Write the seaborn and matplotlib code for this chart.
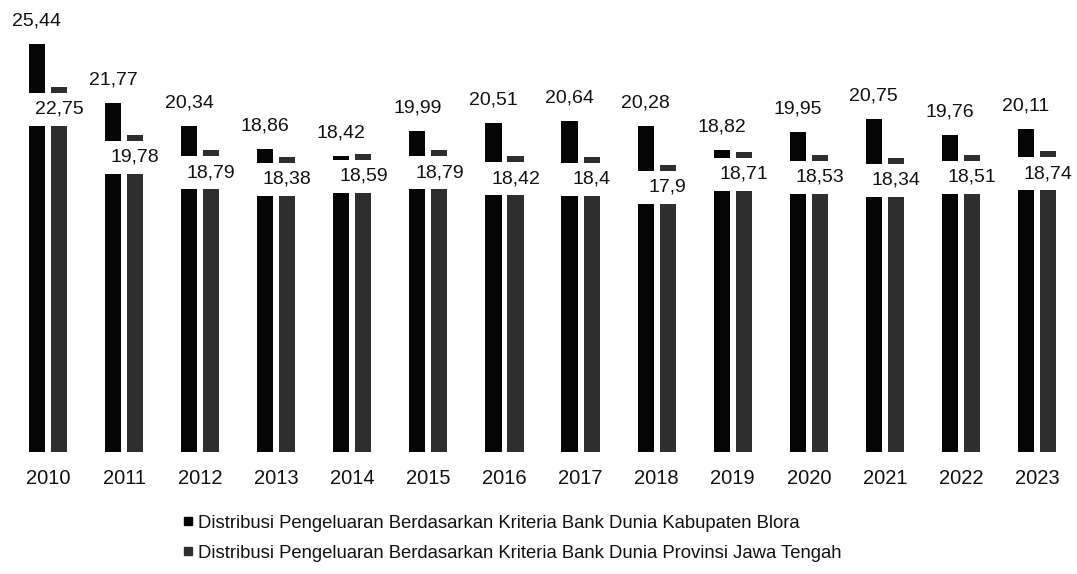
import matplotlib
matplotlib.use("Agg")
import matplotlib.pyplot as plt
from matplotlib.lines import Line2D
from matplotlib.patches import Rectangle
import pandas as pd
import seaborn as sns

years = ["2010", "2011", "2012", "2013", "2014", "2015", "2016",
         "2017", "2018", "2019", "2020", "2021", "2022", "2023"]
blora = [25.44, 21.77, 20.34, 18.86, 18.42, 19.99, 20.51,
         20.64, 20.28, 18.82, 19.95, 20.75, 19.76, 20.11]
jateng = [22.75, 19.78, 18.79, 18.38, 18.59, 18.79, 18.42,
          18.4, 17.9, 18.71, 18.53, 18.34, 18.51, 18.74]
series_names = [
    "Distribusi Pengeluaran Berdasarkan Kriteria Bank Dunia Kabupaten Blora",
    "Distribusi Pengeluaran Berdasarkan Kriteria Bank Dunia Provinsi Jawa Tengah",
]
colors = ["#050505", "#2e2e2e"]

df = pd.DataFrame({
    "Tahun": years * 2,
    "Nilai": blora + jateng,
    "Seri": [series_names[0]] * len(years) + [series_names[1]] * len(years),
})

sns.set_style("white")
plt.rcParams["font.family"] = ["Liberation Sans", "DejaVu Sans"]

fig = plt.figure(figsize=(10.77, 5.74), dpi=100)
ax = fig.add_axes([0.0, 0.2125, 1.0, 0.7875])

sns.barplot(data=df, x="Tahun", y="Nilai", hue="Seri", palette=colors,
            width=0.58, gap=0.27, saturation=1, linewidth=0, ax=ax,
            legend=False, zorder=2)

ax.set_xlim(-0.631, 13.525)
ax.set_ylim(0, 28.16)
for s in ax.spines.values():
    s.set_visible(False)
ax.set_yticks([])
ax.set_xlabel("")
ax.set_ylabel("")
ax.tick_params(axis="x", length=0, pad=12.5, labelsize=14.5, labelcolor="#111111")


def fmt(v):
    return f"{v:g}".replace(".", ",")


bars_a, bars_b = ax.containers[0], ax.containers[1]
px = 16.05  # pixels per data unit on the y axis
for pa, pb, va, vb in zip(bars_a, bars_b, blora, jateng):
    xa = pa.get_x() + pa.get_width() / 2
    xb = pb.get_x() + pb.get_width() / 2
    # value of the Blora bar, above it
    ax.annotate(fmt(va), (xa, va), xytext=(0, 23), textcoords="offset pixels",
                ha="center", va="center", fontsize=14, color="#111111", zorder=5)
    # value of the provincial bar, on a white box cutting across the pair
    top = vb - 6 / px
    height = 33 / px
    left = pa.get_x() - 0.005
    right = pb.get_x() + pb.get_width() + 0.25
    ax.add_patch(Rectangle((left, top - height), right - left, height,
                           facecolor="white", edgecolor="none", zorder=3))
    ax.text(xb, top - height / 2, fmt(vb), ha="center", va="center",
            fontsize=14, color="#111111", zorder=4)

handles = [Line2D([], [], linestyle="none", marker="s", markersize=6,
                  markerfacecolor=c, markeredgecolor=c) for c in colors]
fig.legend(handles, series_names, loc="center left",
           bbox_to_anchor=(0.163, 0.062), frameon=False, fontsize=13.3,
           handlelength=0.6, handletextpad=0.2, labelspacing=0.7,
           borderaxespad=0, labelcolor="#111111")

fig.savefig("out.png", dpi=100, facecolor="white")
